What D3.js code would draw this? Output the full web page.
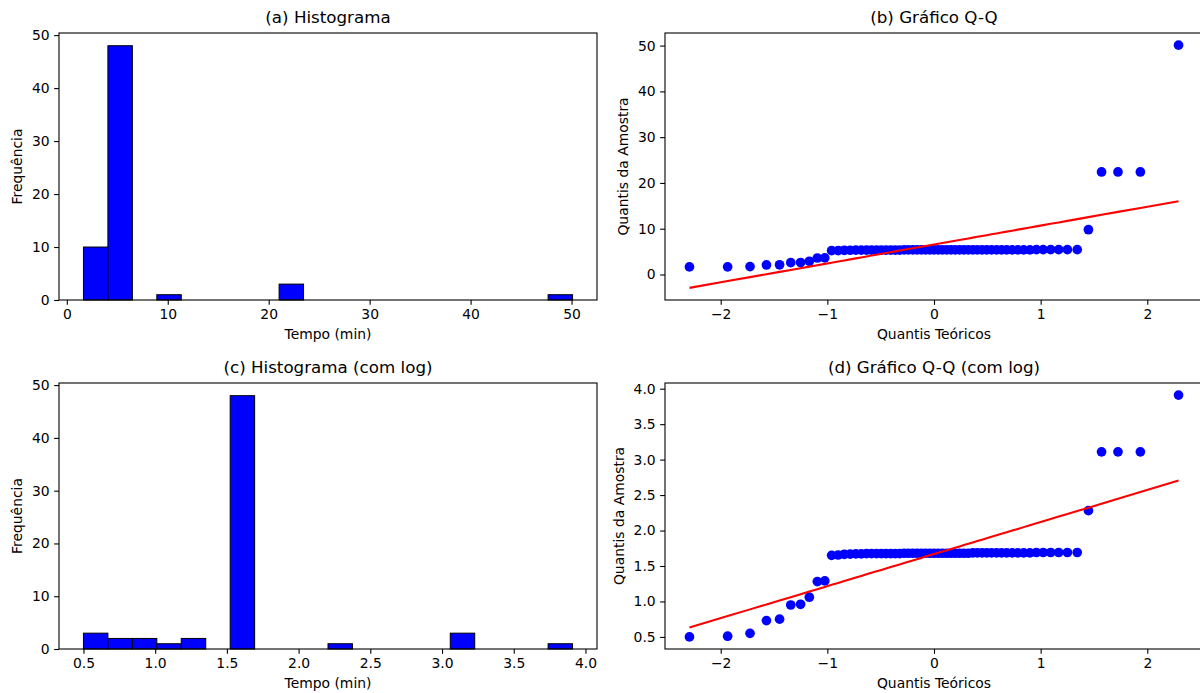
<!DOCTYPE html>
<html>
<head>
<meta charset="utf-8">
<script src="https://cdn.jsdelivr.net/npm/d3@7"></script>
<style>
  body { margin: 0; background: #fff; }
  text { font-family: "DejaVu Sans", sans-serif; fill: #000; }
</style>
</head>
<body>
<script>
var width = 1200;
var height = 693;

// histogram counts, 20 equal bins between the range ends
var histA = [10, 48, 0, 1, 0, 0, 0, 0, 3, 0, 0, 0, 0, 0, 0, 0, 0, 0, 0, 1];
var histARange = [1.65, 50.1];
var histC = [3, 2, 2, 1, 2, 0, 48, 0, 0, 0, 1, 0, 0, 0, 0, 3, 0, 0, 0, 1];
var histCRange = [0.50, 3.91];

// theoretical quantiles (x of Q-Q points)
var theoQ = [-2.293, -1.935, -1.725, -1.571, -1.448, -1.343, -1.251, -1.169, -1.094, -1.024,
  -0.960, -0.899, -0.841, -0.786, -0.733, -0.682, -0.633, -0.586, -0.539, -0.494,
  -0.450, -0.406, -0.364, -0.322, -0.280, -0.240, -0.199, -0.159, -0.119, -0.079,
  -0.040, 0, 0.040, 0.079, 0.119, 0.159, 0.199, 0.240, 0.280, 0.322,
  0.364, 0.406, 0.450, 0.494, 0.539, 0.586, 0.633, 0.682, 0.733, 0.786,
  0.841, 0.899, 0.960, 1.024, 1.094, 1.169, 1.251, 1.343, 1.448, 1.571,
  1.725, 1.935, 2.293];

// ordered sample (minutes)
var sampleQ = [1.65, 1.67, 1.73, 2.08, 2.12, 2.59, 2.61, 2.89, 3.60, 3.63,
  5.21, 5.23, 5.29, 5.30, 5.31, 5.32, 5.34, 5.34, 5.34, 5.34,
  5.34, 5.34, 5.34, 5.34, 5.37, 5.37, 5.37, 5.37, 5.37, 5.37,
  5.37, 5.37, 5.37, 5.37, 5.37, 5.37, 5.37, 5.37, 5.37, 5.37,
  5.39, 5.39, 5.39, 5.39, 5.39, 5.39, 5.39, 5.39, 5.39, 5.39,
  5.39, 5.39, 5.42, 5.42, 5.42, 5.42, 5.42, 5.42, 9.78, 22.4,
  22.4, 22.4, 50.1];

// ordered sample (log)
var sampleLogQ = [0.50, 0.51, 0.55, 0.73, 0.75, 0.95, 0.96, 1.06, 1.28, 1.29,
  1.650, 1.655, 1.665, 1.668, 1.670, 1.672, 1.675, 1.675, 1.675, 1.675,
  1.675, 1.675, 1.675, 1.675, 1.680, 1.680, 1.680, 1.680, 1.680, 1.680,
  1.680, 1.680, 1.680, 1.680, 1.680, 1.680, 1.680, 1.680, 1.680, 1.680,
  1.685, 1.685, 1.685, 1.685, 1.685, 1.685, 1.685, 1.685, 1.685, 1.685,
  1.685, 1.685, 1.690, 1.690, 1.690, 1.690, 1.690, 1.690, 2.28, 3.11,
  3.11, 3.11, 3.91];

// fitted lines: [slope, intercept]
var fitB = [4.13, 6.55];
var fitD = [0.452, 1.668];

var ticksCount = [0, 10, 20, 30, 40, 50];
var ticksA = [0, 10, 20, 30, 40, 50];
var ticksC = [0.5, 1.0, 1.5, 2.0, 2.5, 3.0, 3.5, 4.0];
var ticksQ = [-2, -1, 0, 1, 2];
var ticksB = [0, 10, 20, 30, 40, 50];
var ticksD = [0.5, 1.0, 1.5, 2.0, 2.5, 3.0, 3.5, 4.0];

var svg = d3.select('body').append('svg')
    .attr('width', width)
    .attr('height', height);

var cols = [[59, 597], [665, 1203]];
var rows = [[33, 300], [383, 649]];
var tickLen = 4.86;
var fs = 13.9;

function frame(col, row) {
  var g = svg.append('g');
  return {
    g: g,
    x0: cols[col][0], x1: cols[col][1],
    y0: rows[row][0], y1: rows[row][1]
  };
}

function pad(dom, f) {
  var d = dom[1] - dom[0];
  return [dom[0] - d * f, dom[1] + d * f];
}

function axes(p, x, y, xt, yt, xfmt, yfmt, title, xlab, ylab) {
  var xa = p.g.append('g')
      .attr('transform', 'translate(0,' + p.y1 + ')')
      .call(d3.axisBottom(x).tickValues(xt).tickFormat(d3.format(xfmt))
        .tickSize(tickLen).tickPadding(4.5).tickSizeOuter(0));
  var ya = p.g.append('g')
      .attr('transform', 'translate(' + p.x0 + ',0)')
      .call(d3.axisLeft(y).tickValues(yt).tickFormat(d3.format(yfmt))
        .tickSize(tickLen).tickPadding(4.5).tickSizeOuter(0));
  [xa, ya].forEach(function(a) {
    a.select('.domain').remove();
    a.attr('font-family', null).attr('font-size', null);
    a.selectAll('line').attr('stroke', '#000').attr('stroke-width', 1.1);
    a.selectAll('text').style('font-size', fs + 'px').attr('fill', '#000');
  });

  p.g.append('rect')
      .attr('x', p.x0).attr('y', p.y0)
      .attr('width', p.x1 - p.x0).attr('height', p.y1 - p.y0)
      .attr('fill', 'none').attr('stroke', '#000').attr('stroke-width', 1.1);

  p.g.append('text')
      .attr('x', (p.x0 + p.x1) / 2).attr('y', p.y0 - 10)
      .attr('text-anchor', 'middle')
      .style('font-size', '16.7px')
      .text(title);

  p.g.append('text')
      .attr('x', (p.x0 + p.x1) / 2).attr('y', p.y1 + 39)
      .attr('text-anchor', 'middle')
      .style('font-size', fs + 'px')
      .text(xlab);

  var bb = ya.node().getBBox();
  var lx = p.x0 + bb.x - 10;
  p.g.append('text')
      .attr('transform', 'translate(' + lx + ',' + ((p.y0 + p.y1) / 2) + ') rotate(-90)')
      .attr('text-anchor', 'middle')
      .style('font-size', fs + 'px')
      .text(ylab);
}

function drawHist(p, counts, range, xt, title) {
  var n = counts.length;
  var bw = (range[1] - range[0]) / n;
  var x = d3.scaleLinear().domain(pad(range, 0.05)).range([p.x0, p.x1]);
  var y = d3.scaleLinear().domain([0, d3.max(counts) * 1.05]).range([p.y1, p.y0]);

  p.g.append('g').selectAll('rect')
      .data(counts)
    .enter().append('rect')
      .attr('x', function(d, i) { return x(range[0] + i * bw); })
      .attr('width', function(d, i) { return x(range[0] + (i + 1) * bw) - x(range[0] + i * bw); })
      .attr('y', function(d) { return y(d); })
      .attr('height', function(d) { return y(0) - y(d); })
      .attr('fill', '#0000ff')
      .attr('stroke', '#000')
      .attr('stroke-width', 1);

  var fmt = xt[0] % 1 === 0 ? 'd' : '.1f';
  axes(p, x, y, xt, ticksCount, fmt, 'd', title, 'Tempo (min)', 'Frequência');
}

function drawQQ(p, theo, sample, fit, yt, yfmt, title) {
  var xd = pad(d3.extent(theo), 0.05);
  var lineY = theo.map(function(t) { return fit[0] * t + fit[1]; });
  var yd = pad(d3.extent(sample.concat(lineY)), 0.05);
  var x = d3.scaleLinear().domain(xd).range([p.x0, p.x1]);
  var y = d3.scaleLinear().domain(yd).range([p.y1, p.y0]);

  p.g.append('g').selectAll('circle')
      .data(theo)
    .enter().append('circle')
      .attr('cx', function(d) { return x(d); })
      .attr('cy', function(d, i) { return y(sample[i]); })
      .attr('r', 4.85)
      .attr('fill', '#0000ff');

  var line = d3.line()
      .x(function(d) { return x(d); })
      .y(function(d) { return y(fit[0] * d + fit[1]); });

  p.g.append('path')
      .datum(theo)
      .attr('d', line)
      .attr('fill', 'none')
      .attr('stroke', '#ff0000')
      .attr('stroke-width', 2.08);

  axes(p, x, y, ticksQ, yt, 'd', yfmt, title, 'Quantis Teóricos', 'Quantis da Amostra');
}

drawHist(frame(0, 0), histA, histARange, ticksA, '(a) Histograma');
drawQQ(frame(1, 0), theoQ, sampleQ, fitB, ticksB, 'd', '(b) Gráfico Q-Q');
drawHist(frame(0, 1), histC, histCRange, ticksC, '(c) Histograma (com log)');
drawQQ(frame(1, 1), theoQ, sampleLogQ, fitD, ticksD, '.1f', '(d) Gráfico Q-Q (com log)');
</script>
</body>
</html>
